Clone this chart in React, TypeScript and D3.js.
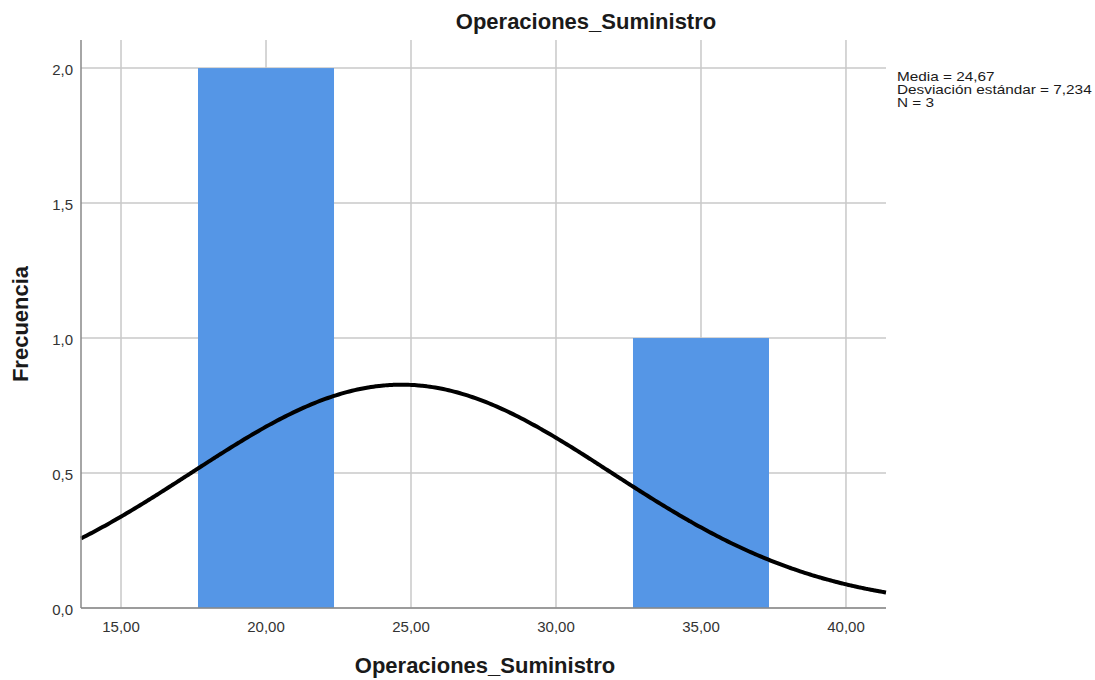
import React from "react";
import * as d3 from "d3";

// Histogram bins (centres) and their counts
const binCenters = [20, 35];
const binCounts = [2, 1];
const binWidth = 5;

// Descriptive statistics for the normal curve
const mean = 24.67;
const stdDev = 7.234;
const n = 3;

const xTicks = [15, 20, 25, 30, 35, 40];
const yTicks = [0, 0.5, 1.0, 1.5, 2.0];

const title = "Operaciones_Suministro";
const xLabel = "Operaciones_Suministro";
const yLabel = "Frecuencia";
const statsLines = ["Media = 24,67", "Desviación estándar = 7,234", "N = 3"];

const W = 1095;
const H = 680;
const M = { left: 81, right: 886, top: 40, bottom: 608 };

const fmtX = (v: number) => v.toFixed(2).replace(".", ",");
const fmtY = (v: number) => v.toFixed(1).replace(".", ",");

export default function App() {
  const x = d3.scaleLinear().domain([13.62, 41.38]).range([M.left, M.right]);
  const y = d3.scaleLinear().domain([0, 2.104]).range([M.bottom, M.top]);

  const barFrac = 0.938;
  const normal = (v: number) =>
    (n * binWidth) / (stdDev * Math.sqrt(2 * Math.PI)) *
    Math.exp(-0.5 * ((v - mean) / stdDev) ** 2);
  const curvePts = d3.range(0, 301).map((i) => {
    const v = 13.62 + (i / 300) * (41.38 - 13.62);
    return [v, normal(v)] as [number, number];
  });
  const line = d3
    .line<[number, number]>()
    .x((d) => x(d[0]))
    .y((d) => y(d[1]))
    .curve(d3.curveBasis);

  const font = "Arial, 'Liberation Sans', sans-serif";

  return (
    <svg width={W} height={H} style={{ position: "absolute", left: 0, top: 0, background: "#fff" }}>
      {/* grid */}
      {xTicks.map((t) => (
        <line key={"gx" + t} x1={x(t)} x2={x(t)} y1={M.top} y2={M.bottom} stroke="#c8c8c8" strokeWidth={1.5} />
      ))}
      {yTicks.map((t) => (
        <line key={"gy" + t} x1={M.left} x2={M.right} y1={y(t)} y2={y(t)} stroke="#c8c8c8" strokeWidth={1.5} />
      ))}
      {/* bars */}
      {binCenters.map((c, i) => {
        const half = (binWidth * barFrac) / 2;
        return (
          <rect
            key={"b" + i}
            x={x(c - half)}
            y={y(binCounts[i])}
            width={x(c + half) - x(c - half)}
            height={y(0) - y(binCounts[i])}
            fill="#5596e6"
          />
        );
      })}
      {/* normal curve */}
      <path d={line(curvePts) || ""} fill="none" stroke="#000" strokeWidth={4} />
      {/* axes */}
      <line x1={M.left} x2={M.left} y1={M.top} y2={M.bottom} stroke="#888" strokeWidth={1.5} />
      <line x1={M.left} x2={M.right} y1={M.bottom} y2={M.bottom} stroke="#888" strokeWidth={1.5} />
      {xTicks.map((t) => (
        <text key={"tx" + t} x={x(t)} y={632} textAnchor="middle" fontFamily={font} fontSize={15} fill="#333">
          {fmtX(t)}
        </text>
      ))}
      {yTicks.map((t) => (
        <text key={"ty" + t} x={73} y={y(t) + 6.5} textAnchor="end" fontFamily={font} fontSize={15} fill="#333">
          {fmtY(t)}
        </text>
      ))}
      {/* titles */}
      <text x={586} y={29} textAnchor="middle" fontFamily={font} fontSize={22} fontWeight="bold" fill="#1a1a1a">
        {title}
      </text>
      <text x={485} y={673} textAnchor="middle" fontFamily={font} fontSize={22} fontWeight="bold" fill="#1a1a1a">
        {xLabel}
      </text>
      <text
        transform={`translate(28,${(M.top + M.bottom) / 2}) rotate(-90)`}
        textAnchor="middle"
        fontFamily={font}
        fontSize={22}
        fontWeight="bold"
        fill="#1a1a1a"
      >
        {yLabel}
      </text>
      {/* stats */}
      <g transform="translate(897,0) scale(1.18,1)">
        {statsLines.map((s, i) => (
          <text key={"s" + i} x={0} y={81 + i * 13} fontFamily={font} fontSize={13} fill="#1a1a1a">
            {s}
          </text>
        ))}
      </g>
    </svg>
  );
}
